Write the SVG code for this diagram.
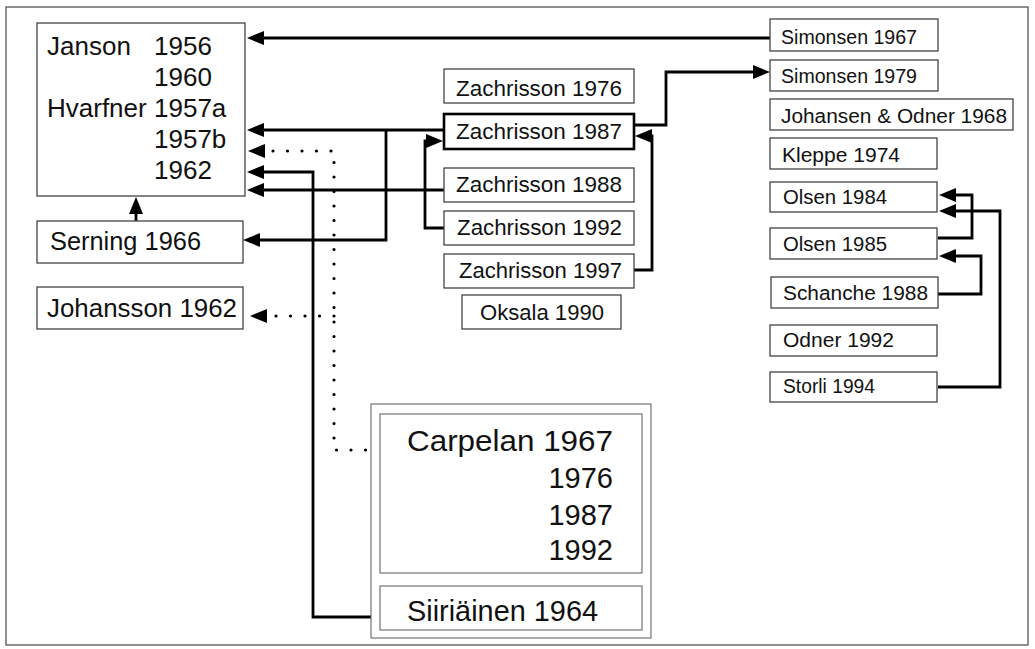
<svg xmlns="http://www.w3.org/2000/svg" width="1035" height="649" viewBox="0 0 1035 649">
<style>
  .frame{fill:none;stroke:#555;stroke-width:1.3}
  .box{fill:#fff;stroke:#444;stroke-width:1.3}
  .thick{fill:#fff;stroke:#000;stroke-width:2.6}
  .thin{fill:#fff;stroke:#666;stroke-width:1.1}
  text{font-family:"Liberation Sans",Arial,sans-serif;fill:#111}
  .l{font-size:26px}
  .m{font-size:22px}
  .s{font-size:20px}
  .c{font-size:29px}
  .conn{fill:none;stroke:#000;stroke-width:2.8;stroke-linejoin:miter}
  .dot{fill:none;stroke:#000;stroke-width:3.2;stroke-linecap:round;stroke-dasharray:0 14.5}
</style>
<defs>
  <marker id="arr" markerUnits="userSpaceOnUse" markerWidth="18" markerHeight="15" refX="9" refY="7" orient="auto">
    <path d="M0,0 L17,7 L0,14 Z" fill="#000"/>
  </marker>
</defs>
<rect class="frame" x="6" y="7" width="1022" height="638"/>

<g id="connectors">
  <path class="conn" d="M770,38 H255" marker-end="url(#arr)"/>
  <path class="conn" d="M444,130 H255" marker-end="url(#arr)"/>
  <path class="conn" d="M386,130 V240 H251" marker-end="url(#arr)"/>
  <path class="dot" d="M380,450 H334 V151 H262"/>
  <path class="conn" d="M258,151 H256" marker-end="url(#arr)"/>
  <path class="dot" d="M334,316 H264"/>
  <path class="conn" d="M259,316 H258" marker-end="url(#arr)"/>
  <path class="conn" d="M380,617 H313 V172 H255" marker-end="url(#arr)"/>
  <path class="conn" d="M444,190 H255" marker-end="url(#arr)"/>
  <path class="conn" d="M444,228 H425 V141 H435" marker-end="url(#arr)"/>
  <path class="conn" d="M634,270 H652 V136 H643" marker-end="url(#arr)"/>
  <path class="conn" d="M634,125 H666 V72 H762" marker-end="url(#arr)"/>
  <path class="conn" d="M136,221 V205" marker-end="url(#arr)"/>
  <path class="conn" d="M938,238 H972 V195 H947" marker-end="url(#arr)"/>
  <path class="conn" d="M938,387 H1000 V211 H947" marker-end="url(#arr)"/>
  <path class="conn" d="M938,294 H981 V256 H947" marker-end="url(#arr)"/>
</g>

<g id="janson">
  <rect class="box" x="37" y="23" width="208" height="173"/>
  <text class="l" x="47" y="55">Janson</text>
  <text class="l" x="154" y="55">1956</text>
  <text class="l" x="154" y="86">1960</text>
  <text class="l" x="47" y="117">Hvarfner</text>
  <text class="l" x="154" y="117">1957a</text>
  <text class="l" x="154" y="148">1957b</text>
  <text class="l" x="154" y="179">1962</text>
</g>
<g id="serning">
  <rect class="box" x="37" y="221" width="206" height="42"/>
  <text class="l" x="50" y="250" textLength="151" lengthAdjust="spacingAndGlyphs">Serning 1966</text>
</g>
<g id="johansson">
  <rect class="box" x="37" y="287" width="206" height="42"/>
  <text class="l" x="47" y="317" textLength="190" lengthAdjust="spacingAndGlyphs">Johansson 1962</text>
</g>

<g id="zachrisson1976">
  <rect class="box" x="444" y="69" width="190" height="34"/>
  <text class="m" x="456" y="96" textLength="166" lengthAdjust="spacingAndGlyphs">Zachrisson 1976</text>
</g>
<g id="zachrisson1987">
  <rect class="thick" x="444" y="114" width="190" height="35"/>
  <text class="m" x="456" y="139" textLength="166" lengthAdjust="spacingAndGlyphs">Zachrisson 1987</text>
</g>
<g id="zachrisson1988">
  <rect class="box" x="444" y="168" width="190" height="34"/>
  <text class="m" x="456" y="192" textLength="166" lengthAdjust="spacingAndGlyphs">Zachrisson 1988</text>
</g>
<g id="zachrisson1992">
  <rect class="box" x="444" y="211" width="190" height="34"/>
  <text class="m" x="457" y="235" textLength="165" lengthAdjust="spacingAndGlyphs">Zachrisson 1992</text>
</g>
<g id="zachrisson1997">
  <rect class="box" x="444" y="254" width="190" height="34"/>
  <text class="m" x="459" y="278" textLength="163" lengthAdjust="spacingAndGlyphs">Zachrisson 1997</text>
</g>
<g id="oksala1990">
  <rect class="box" x="462" y="295" width="159" height="34"/>
  <text class="m" x="480" y="320" textLength="124" lengthAdjust="spacingAndGlyphs">Oksala 1990</text>
</g>

<g id="simonsen1967">
  <rect class="box" x="770" y="19" width="168" height="32"/>
  <text class="s" x="781" y="44" textLength="136" lengthAdjust="spacingAndGlyphs">Simonsen 1967</text>
</g>
<g id="simonsen1979">
  <rect class="box" x="770" y="60" width="168" height="31"/>
  <text class="s" x="781" y="83" textLength="136" lengthAdjust="spacingAndGlyphs">Simonsen 1979</text>
</g>
<g id="johansen-odner1968">
  <rect class="box" x="770" y="99" width="243" height="31"/>
  <text class="s" x="781" y="123" textLength="226" lengthAdjust="spacingAndGlyphs">Johansen &amp; Odner 1968</text>
</g>
<g id="kleppe1974">
  <rect class="box" x="770" y="138" width="167" height="31"/>
  <text class="s" x="782" y="162" textLength="118" lengthAdjust="spacingAndGlyphs">Kleppe 1974</text>
</g>
<g id="olsen1984">
  <rect class="box" x="770" y="182" width="167" height="30"/>
  <text class="s" x="783" y="204" textLength="104" lengthAdjust="spacingAndGlyphs">Olsen 1984</text>
</g>
<g id="olsen1985">
  <rect class="box" x="770" y="228" width="167" height="31"/>
  <text class="s" x="783" y="251" textLength="104" lengthAdjust="spacingAndGlyphs">Olsen 1985</text>
</g>
<g id="schanche1988">
  <rect class="box" x="771" y="277" width="167" height="31"/>
  <text class="s" x="783" y="300" textLength="145" lengthAdjust="spacingAndGlyphs">Schanche 1988</text>
</g>
<g id="odner1992">
  <rect class="box" x="770" y="325" width="167" height="31"/>
  <text class="s" x="783" y="347" textLength="111" lengthAdjust="spacingAndGlyphs">Odner 1992</text>
</g>
<g id="storli1994">
  <rect class="box" x="770" y="372" width="167" height="30"/>
  <text class="s" x="783" y="393" textLength="92" lengthAdjust="spacingAndGlyphs">Storli 1994</text>
</g>

<g id="carpelan-group">
  <rect class="thin" x="371" y="404" width="280" height="234"/>
  <g id="carpelan">
    <rect class="thin" x="380" y="414" width="262" height="159"/>
    <text class="c" x="613" y="451" text-anchor="end" textLength="206" lengthAdjust="spacingAndGlyphs">Carpelan 1967</text>
    <text class="c" x="613" y="488" text-anchor="end">1976</text>
    <text class="c" x="613" y="525" text-anchor="end">1987</text>
    <text class="c" x="613" y="560" text-anchor="end">1992</text>
  </g>
  <g id="siiriainen">
    <rect class="thin" x="380" y="586" width="262" height="44"/>
    <text class="c" x="407" y="621" textLength="191" lengthAdjust="spacingAndGlyphs">Siiriäinen 1964</text>
  </g>
</g>
</svg>
